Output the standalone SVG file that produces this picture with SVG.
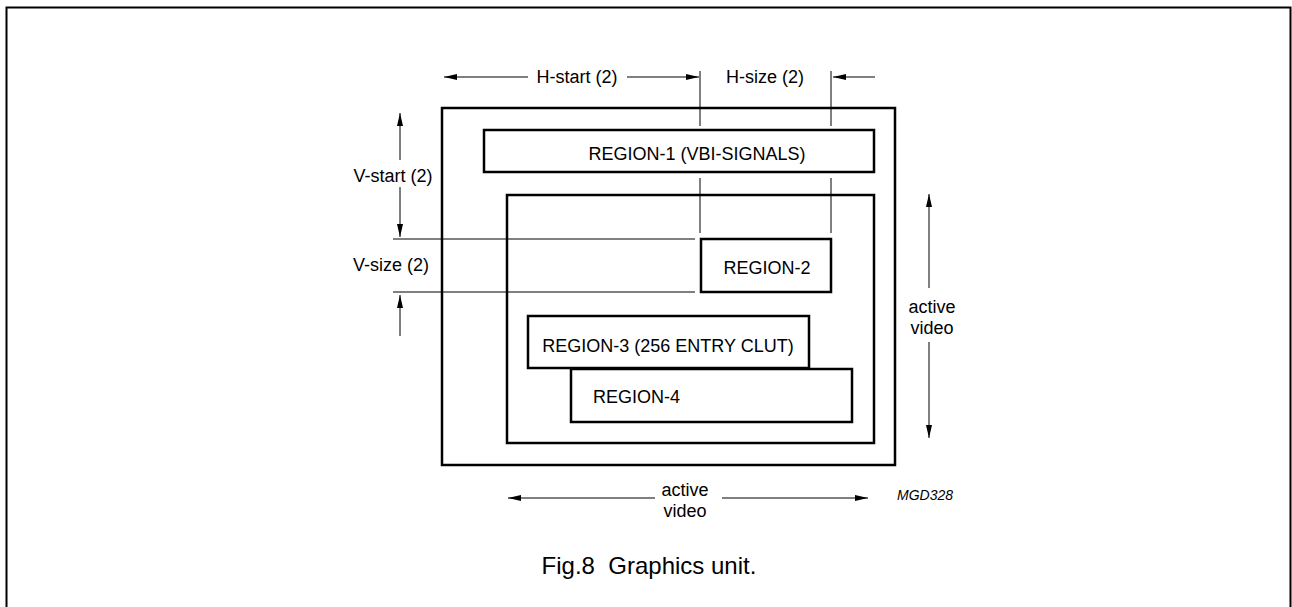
<svg xmlns="http://www.w3.org/2000/svg" width="1292" height="607" viewBox="0 0 1292 607">
<style>
text{font-family:"Liberation Sans",Arial,sans-serif;font-size:18px;fill:#000}
.box{fill:none;stroke:#000;stroke-width:2.5}
.ln{stroke:#000;stroke-width:1;fill:none}
</style>
<defs>
<marker id="ah" viewBox="0 0 13 6" refX="13" refY="3" markerWidth="13" markerHeight="6" markerUnits="userSpaceOnUse" orient="auto"><path d="M0,0 L13,3 L0,6 Z" fill="#000"/></marker>
</defs>
<rect x="6.5" y="7.5" width="1284" height="605" fill="#fff" stroke="#000" stroke-width="2"/>
<g id="outer"><rect class="box" x="442" y="108" width="453" height="357"/></g>
<g id="inner"><rect class="box" x="507" y="195" width="367" height="248"/></g>
<g id="region1"><rect class="box" x="484" y="130" width="390" height="42" fill="#fff"/><text x="697" y="160" text-anchor="middle">REGION-1 (VBI-SIGNALS)</text></g>
<g id="region2"><rect class="box" x="701" y="239" width="130" height="53"/><text x="767" y="274" text-anchor="middle">REGION-2</text></g>
<g id="region3"><rect class="box" x="528" y="316" width="281" height="52"/><text x="668" y="352" text-anchor="middle">REGION-3 (256 ENTRY CLUT)</text></g>
<g id="region4"><rect class="box" x="571" y="369" width="281" height="53" fill="#fff"/><text x="593" y="403">REGION-4</text></g>
<g id="connectors">
<line class="ln" x1="700" y1="71" x2="700" y2="126"/>
<line class="ln" x1="831" y1="71" x2="831" y2="126"/>
<line class="ln" x1="700" y1="178" x2="700" y2="233"/>
<line class="ln" x1="831" y1="178" x2="831" y2="233"/>
<line class="ln" x1="393" y1="239" x2="695" y2="239"/>
<line class="ln" x1="393" y1="292" x2="695" y2="292"/>
<line class="ln" x1="528" y1="77" x2="444" y2="77" marker-end="url(#ah)"/>
<line class="ln" x1="627" y1="77" x2="699" y2="77" marker-end="url(#ah)"/>
<line class="ln" x1="875" y1="77" x2="833" y2="77" marker-end="url(#ah)"/>
<line class="ln" x1="400" y1="160" x2="400" y2="113" marker-end="url(#ah)"/>
<line class="ln" x1="400" y1="187" x2="400" y2="237" marker-end="url(#ah)"/>
<line class="ln" x1="400" y1="336" x2="400" y2="295" marker-end="url(#ah)"/>
<line class="ln" x1="929" y1="288" x2="929" y2="194" marker-end="url(#ah)"/>
<line class="ln" x1="929" y1="342" x2="929" y2="438" marker-end="url(#ah)"/>
<line class="ln" x1="655" y1="498" x2="508" y2="498" marker-end="url(#ah)"/>
<line class="ln" x1="722" y1="498" x2="868" y2="498" marker-end="url(#ah)"/>
</g>
<g id="labels">
<text x="577" y="83" text-anchor="middle">H-start (2)</text>
<text x="765" y="83" text-anchor="middle">H-size (2)</text>
<text x="393" y="182" text-anchor="middle">V-start (2)</text>
<text x="391" y="271" text-anchor="middle">V-size (2)</text>
<text x="932" y="313" text-anchor="middle">active</text>
<text x="932" y="334" text-anchor="middle">video</text>
<text x="685" y="496" text-anchor="middle">active</text>
<text x="685" y="517" text-anchor="middle">video</text>
<text x="925" y="500" text-anchor="middle" style="font-size:14px;font-style:italic">MGD328</text>
<text x="649" y="574" text-anchor="middle" xml:space="preserve" style="font-size:24px">Fig.8  Graphics unit.</text>
</g>
</svg>
